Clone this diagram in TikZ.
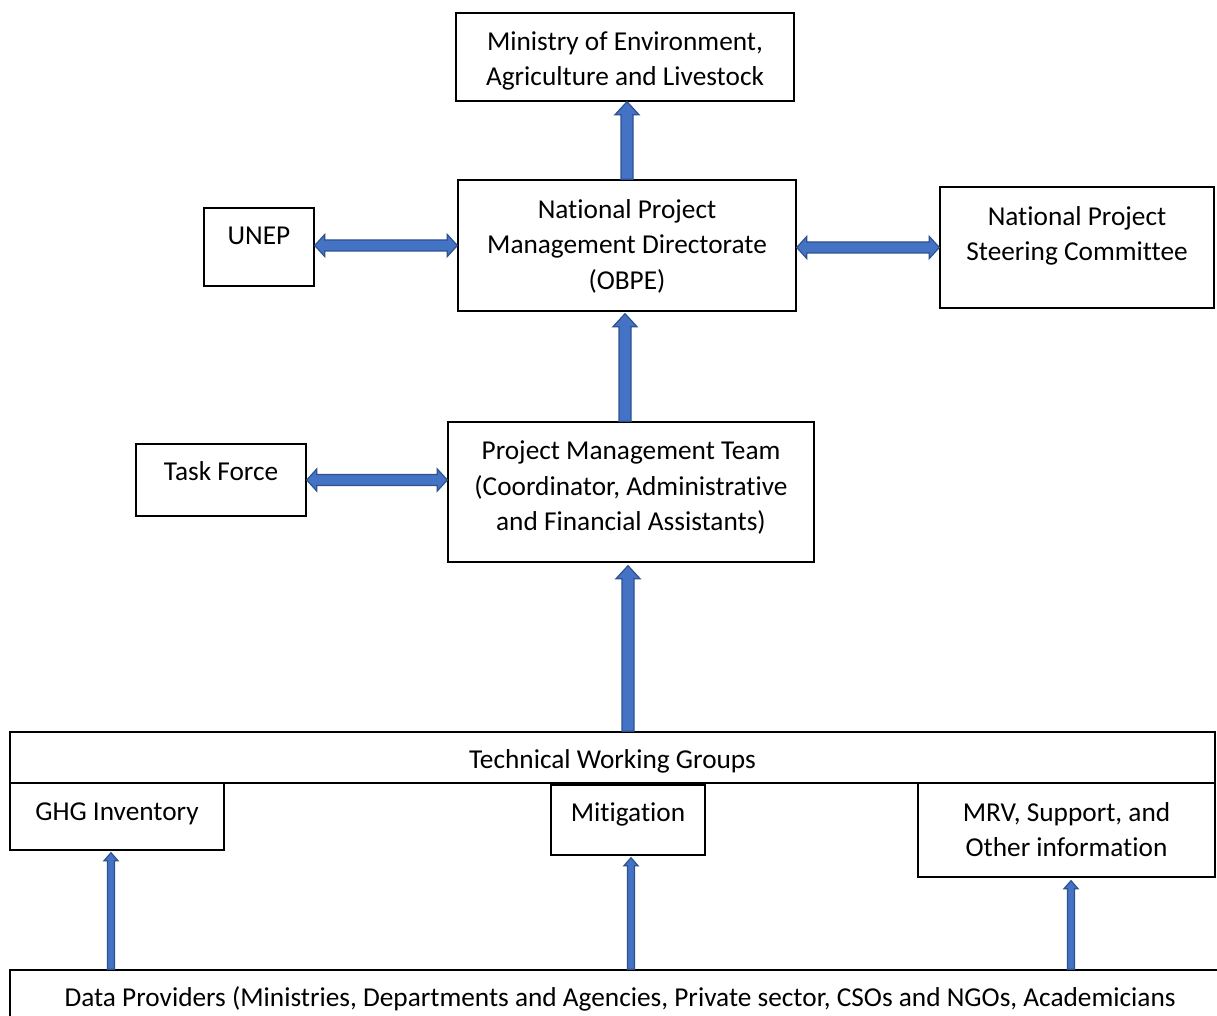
\documentclass[tikz,border=0pt]{standalone}
\usepackage{fontspec}
\setmainfont{Carlito}[Ligatures=NoCommon]
\usetikzlibrary{calc}
\definecolor{arrfill}{HTML}{4472C4}
\definecolor{arrline}{HTML}{2F528F}
\tikzset{
  box/.style={draw=black, line width=1.4pt, inner sep=0pt, align=center,
    font=\fontsize{27.3}{35.5}\selectfont},
  blockarr/.style={fill=arrfill, draw=arrline, line width=1.2pt, line join=miter}
}
\newcommand\blkup[5]{%
  \path[blockarr] let \p1=(#1), \p2=(#2) in
   (\x1-#3pt,\y1) -- (\x1-#3pt,\y2-#5pt) -- (\x1-#4pt,\y2-#5pt) -- (\x1,\y2)
   -- (\x1+#4pt,\y2-#5pt) -- (\x1+#3pt,\y2-#5pt) -- (\x1+#3pt,\y1) -- cycle;}
\newcommand\blkdbl[5]{%
  \path[blockarr] let \p1=(#1), \p2=(#2) in
   (\x1,\y1) -- (\x1+#5pt,\y1+#4pt) -- (\x1+#5pt,\y1+#3pt) -- (\x2-#5pt,\y1+#3pt)
   -- (\x2-#5pt,\y1+#4pt) -- (\x2,\y1) -- (\x2-#5pt,\y1-#4pt) -- (\x2-#5pt,\y1-#3pt)
   -- (\x1+#5pt,\y1-#3pt) -- (\x1+#5pt,\y1-#4pt) -- cycle;}
\begin{document}
\begin{tikzpicture}[x=1pt,y=-1pt]
\useasboundingbox[fill=white] (0,0) rectangle (1217,1016);
\clip (0,0) rectangle (1217,1016);
\node[box, minimum width=338pt, text height=73pt, text depth=15pt] (min) at (625,57)
  {Ministry of Environment,\\Agriculture and Livestock};
\node[box, minimum width=338pt, text height=109pt, text depth=22pt] (npmd) at (627,245.5)
  {National Project\\Management Directorate\\(OBPE)};
\node[box, minimum width=110pt, text height=37pt, text depth=41pt] (unep) at (259,247)
  {UNEP};
\node[box, minimum width=274pt, text height=73.5pt, text depth=47.5pt] (npsc) at (1077,247.5)
  {National Project\\Steering Committee};
\node[box, minimum width=170pt, text height=36.5pt, text depth=35.5pt] (tf) at (221,480)
  {Task Force};
\node[box, minimum width=366pt, text height=108.5pt, text depth=31.5pt] (pmt) at (631,492)
  {Project Management Team\\(Coordinator, Administrative\\and Financial Assistants)};
\node[box, minimum width=1205pt, text height=36.5pt, text depth=14.5pt] (twg) at (612.5,757.5)
  {Technical Working Groups};
\node[box, minimum width=214pt, text height=37.5pt, text depth=29.5pt] (ghg) at (117,816.5)
  {GHG Inventory};
\node[box, minimum width=154pt, text height=36.5pt, text depth=33.5pt] (mit) at (628,820)
  {Mitigation};
\node[box, minimum width=297pt, text height=73.5pt, text depth=20.5pt] (mrv) at (1066.5,830)
  {MRV, Support, and\\Other information};
\node[box, minimum width=1220pt, text height=36.5pt, text depth=23.5pt] (data) at (620,1000)
  {Data Providers (Ministries, Departments and Agencies, Private sector, CSOs and NGOs, Academicians};
% arrows
\blkup{npmd.north}{npmd.north |- min.south}{6}{12}{13}
\blkup{$(pmt.north)+(-6,0)$}{$(npmd.south)+(0,2)$}{6}{12}{13}
\blkup{$(twg.north -| pmt.south)+(-3,0)$}{$(pmt.south)+(0,3)$}{6}{12}{13}
\blkdbl{unep.east |- npmd.west}{npmd.west}{5.5}{11}{10}
\blkdbl{npmd.east |- npsc.west}{npsc.west}{5.5}{11}{10}
\blkdbl{tf.east}{pmt.west |- tf.east}{5.5}{11}{10}
\blkup{$(data.north -| ghg.south)+(-6,0)$}{$(ghg.south)+(0,2)$}{3.5}{7}{8}
\blkup{$(data.north -| mit.south)+(3,0)$}{$(mit.south)+(0,2)$}{3.5}{7}{8}
\blkup{$(data.north -| mrv.south)+(4.5,0)$}{$(mrv.south)+(0,3)$}{3.5}{7}{8}
\end{tikzpicture}
\end{document}
